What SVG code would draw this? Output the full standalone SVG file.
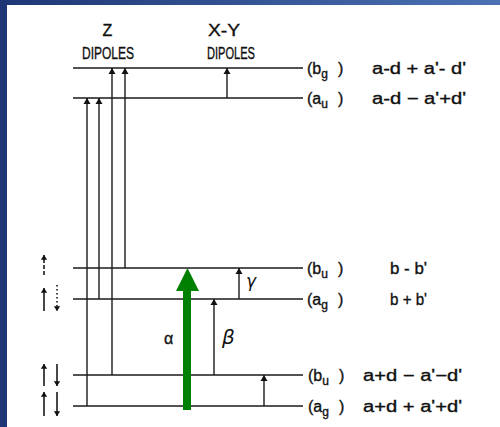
<svg xmlns="http://www.w3.org/2000/svg" width="500" height="427" viewBox="0 0 500 427">
<defs>
<linearGradient id="band" x1="0" y1="0" x2="1" y2="0">
<stop offset="0" stop-color="#1e3674"/>
<stop offset="1" stop-color="#4c72b4"/>
</linearGradient>
<marker id="ah" viewBox="0 0 6 10" refX="6" refY="5" markerWidth="6" markerHeight="10" markerUnits="userSpaceOnUse" orient="auto">
<path d="M0,1.5 L6,5 L0,8.5 Z" fill="#111"/>
</marker>
<marker id="sh" viewBox="0 0 6 10" refX="6" refY="5" markerWidth="6" markerHeight="8" markerUnits="userSpaceOnUse" orient="auto">
<path d="M0,1 L6,5 L0,9 Z" fill="#111"/>
</marker>
</defs>
<style>
.lv{stroke:#1a1a1a;stroke-width:1.6;fill:none}
.tr{stroke:#1a1a1a;stroke-width:1.4;fill:none;marker-end:url(#ah)}
.sp{stroke:#1a1a1a;stroke-width:1.6;fill:none;marker-end:url(#sh)}
.t{font-family:"Liberation Sans","DejaVu Sans",sans-serif;font-size:16px;fill:#111;stroke:#111;stroke-width:0.35}
.sub{font-size:12px}
.g{font-family:"DejaVu Sans","Liberation Sans",sans-serif;font-style:italic;fill:#111}
</style>
<rect x="0" y="0" width="500" height="427" fill="#ffffff"/>
<rect x="0" y="0" width="500" height="5" fill="url(#band)"/>
<rect x="0" y="0" width="7" height="427" fill="#1e3674"/>

<g id="headers">
<text class="t" x="107.5" y="36" text-anchor="middle" font-size="16">Z</text>
<text class="t" x="82" y="59" textLength="52" lengthAdjust="spacingAndGlyphs" font-size="16.5">DIPOLES</text>
<text class="t" x="208" y="36" textLength="32" lengthAdjust="spacingAndGlyphs" font-size="16">X-Y</text>
<text class="t" x="207" y="59" textLength="48" lengthAdjust="spacingAndGlyphs" font-size="16.5">DIPOLES</text>
</g>

<g id="level-bg">
<line class="lv" x1="73" y1="68" x2="303" y2="68"/>
<text class="t" x="307" y="74">(b<tspan class="sub" dy="4">g</tspan></text>
<text class="t" x="338" y="74">)</text>
<text class="t" x="372" y="74" textLength="94" lengthAdjust="spacingAndGlyphs">a-d + a'- d'</text>
</g>
<g id="level-au">
<line class="lv" x1="73" y1="98" x2="303" y2="98"/>
<text class="t" x="307" y="104">(a<tspan class="sub" dy="4">u</tspan></text>
<text class="t" x="338" y="104">)</text>
<text class="t" x="372" y="104" textLength="94" lengthAdjust="spacingAndGlyphs">a-d − a'+d'</text>
</g>
<g id="level-bu1">
<line class="lv" x1="73" y1="268" x2="303" y2="268"/>
<text class="t" x="307" y="274">(b<tspan class="sub" dy="4">u</tspan></text>
<text class="t" x="338" y="274">)</text>
<text class="t" x="390" y="274" textLength="37" lengthAdjust="spacingAndGlyphs">b - b'</text>
</g>
<g id="level-ag1">
<line class="lv" x1="73" y1="299" x2="303" y2="299"/>
<text class="t" x="307" y="305">(a<tspan class="sub" dy="4">g</tspan></text>
<text class="t" x="338" y="305">)</text>
<text class="t" x="390" y="305" textLength="37" lengthAdjust="spacingAndGlyphs">b + b'</text>
</g>
<g id="level-bu2">
<line class="lv" x1="73" y1="375" x2="303" y2="375"/>
<text class="t" x="308" y="381">(b<tspan class="sub" dy="4">u</tspan></text>
<text class="t" x="339" y="381">)</text>
<text class="t" x="363" y="381" textLength="99" lengthAdjust="spacingAndGlyphs">a+d − a'−d'</text>
</g>
<g id="level-ag2">
<line class="lv" x1="73" y1="406" x2="303" y2="406"/>
<text class="t" x="308" y="412">(a<tspan class="sub" dy="4">g</tspan></text>
<text class="t" x="339" y="412">)</text>
<text class="t" x="363" y="412" textLength="99" lengthAdjust="spacingAndGlyphs">a+d + a'+d'</text>
</g>

<g id="spins">
<line class="sp" x1="44" y1="275" x2="44" y2="255" stroke-dasharray="4,2"/>
<line class="sp" x1="44" y1="311" x2="44" y2="288"/>
<line class="sp" x1="57" y1="285" x2="57" y2="311" stroke-dasharray="1.5,2.5"/>
<line class="sp" x1="44" y1="386" x2="44" y2="364"/>
<line class="sp" x1="57" y1="364" x2="57" y2="386"/>
<line class="sp" x1="44" y1="416" x2="44" y2="392"/>
<line class="sp" x1="57" y1="392" x2="57" y2="416"/>
</g>

<g id="connectors">
<line class="tr" x1="87" y1="406" x2="87" y2="98"/>
<line class="tr" x1="99" y1="299" x2="99" y2="98"/>
<line class="tr" x1="112" y1="375" x2="112" y2="68"/>
<line class="tr" x1="125" y1="268" x2="125" y2="68"/>
<line class="tr" x1="227" y1="98" x2="227" y2="68"/>
<line class="tr" x1="239" y1="299" x2="239" y2="268"/>
<line class="tr" x1="214" y1="375" x2="214" y2="299"/>
<line class="tr" x1="264" y1="406" x2="264" y2="375"/>
<path d="M183,410 L183,291 L176,291 L187.5,268 L199,291 L191,291 L191,410 Z" fill="#008000"/>
</g>

<g id="labels">
<text class="t" x="164" y="344" font-size="17">α</text>
<text class="g" x="222" y="344" font-size="20">β</text>
<text class="g" x="246" y="287" font-size="17">γ</text>
</g>
</svg>
